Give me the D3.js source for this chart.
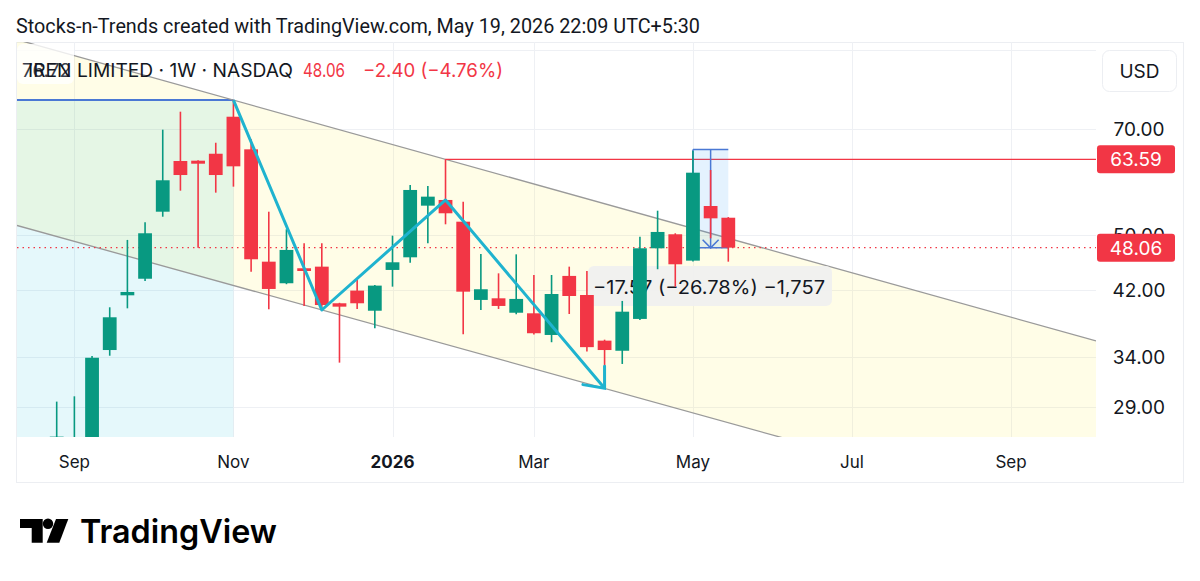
<!DOCTYPE html>
<html><head><meta charset="utf-8">
<script src="https://cdn.jsdelivr.net/npm/d3@7"></script>
<style>html,body{margin:0;padding:0;background:#fff;}svg{display:block;font-family:Inter,Roboto,"Noto Sans",sans-serif;}</style>
</head><body><svg id="c" width="1200" height="581"></svg>
<script>
// ---------- data ----------
const dates = ["2025-08-25","2025-09-01","2025-09-08","2025-09-15","2025-09-22","2025-09-29","2025-10-06","2025-10-13","2025-10-20","2025-10-27",
"2025-11-03","2025-11-10","2025-11-17","2025-11-24","2025-12-01","2025-12-08","2025-12-15","2025-12-22","2025-12-29","2026-01-05",
"2026-01-12","2026-01-19","2026-01-26","2026-02-02","2026-02-09","2026-02-16","2026-02-23","2026-03-02","2026-03-09","2026-03-16",
"2026-03-23","2026-03-30","2026-04-06","2026-04-13","2026-04-20","2026-04-27","2026-05-04","2026-05-11","2026-05-18"];
const openP  = [22.5,24.2,25.6,34.74,41.32,43.55,53.86,63.25,63.31,64.72,72.78,65.63,45.97,42.93,45.02,45.25,40.29,41.94,39.35,44.78,46.61,54.90,55.90,52.18,40.72,40.93,39.10,39.03,36.44,43.94,41.36,35.79,34.66,38.34,47.96,50.14,46.12,54.84,52.84];
const highP  = [29.5,30.0,34.1,39.78,49.25,52.08,69.85,73.95,63.40,67.02,76.72,67.75,53.86,50.94,48.73,48.73,40.35,43.38,42.70,49.92,58.62,58.44,63.59,55.60,47.10,44.30,47.05,44.07,44.07,45.25,44.63,35.90,40.59,49.76,54.03,50.30,65.34,61.47,52.95];
const lowP   = [21.8,23.6,25.2,34.12,39.65,43.24,53.01,57.57,48.05,57.21,58.31,44.53,39.53,42.80,39.95,39.65,33.38,39.57,37.21,42.47,45.82,48.73,51.75,36.52,39.44,39.57,38.91,36.50,35.61,38.94,34.57,30.77,33.24,38.22,44.88,42.47,45.98,49.50,45.97];
const closeP = [26.4,25.9,33.9,38.54,41.76,50.30,59.50,60.50,62.71,60.50,62.19,46.32,42.16,47.71,44.63,40.07,39.86,40.29,42.61,45.88,57.70,56.49,53.59,41.80,42.12,39.95,40.85,36.64,41.49,41.23,35.06,34.74,39.23,47.96,50.51,45.59,60.95,52.74,48.06];

const priceTickValues = [29, 34, 42, 50, 70];
const gridPriceValues = [29, 34, 42, 50, 70, 90];
const monthTickDates = ["2025-09-01","2025-11-03","2026-01-05","2026-03-02","2026-05-04","2026-07-06","2026-09-07"];
const monthTickLabels = ["Sep","Nov","2026","Mar","May","Jul","Sep"];

const lastPrice = 48.06;
const resistancePrice = 63.59, resistanceStart = "2026-01-26";
const upperChannel = [["2025-11-03",76.72],["2026-01-26",63.59]];
const lowerChannel = [["2025-12-08",39.44],["2026-03-30",30.76]];
const zigzagPts = [["2025-11-03",76.72],["2025-12-08",39.44],["2026-01-26",55.90],["2026-03-30",30.77]];
const leftRange = {end:"2025-11-03", price:76.72, label:"76.72"};
const measureTool = {from:"2026-05-04", mid:"2026-05-11", to:"2026-05-18", top:65.6, bottom:48.03};
const measureText = "\u221217.57 (\u221226.78%) \u22121,757";
const titleText = "Stocks-n-Trends created with TradingView.com, May 19, 2026 22:09 UTC+5:30";
const symbolText = "IREN LIMITED \u00b7 1W \u00b7 NASDAQ";
const quoteText = ["48.06", "\u22122.40 (\u22124.76%)"];

// ---------- layout ----------
const P = {l:17, t:42, r:1096, b:437};
const UP = "#089981", DOWN = "#f23645";
const parse = d3.utcParse("%Y-%m-%d");
const bars = dates.map((d,i)=>({d:parse(d), o:openP[i], h:highP[i], l:lowP[i], c:closeP[i]}));

const x = d3.scaleUtc().domain([parse(dates[0]), parse(dates[dates.length-1])]).range([56.7, 728.3]);
const y = d3.scaleLog().domain([26.37, 92.23]).range([P.b, P.t]);
const step = (x(parse(dates[1])) - x(parse(dates[0])));
const bodyW = step*0.78;

const svg = d3.select("#c");
svg.append("rect").attr("width",1200).attr("height",581).attr("fill","#fff");

// title
svg.append("text").attr("x",16).attr("y",33).attr("font-family","Roboto, sans-serif").attr("font-size",20)
  .attr("fill","#131722").attr("textLength",684).attr("lengthAdjust","spacingAndGlyphs").text(titleText);

// frame
svg.append("rect").attr("x",16.5).attr("y",42.5).attr("width",1167).attr("height",440).attr("fill","none").attr("stroke","#eceef2");

const defs = svg.append("defs");
defs.append("clipPath").attr("id","plot").append("rect").attr("x",P.l).attr("y",P.t).attr("width",P.r-P.l).attr("height",P.b-P.t);
const g = svg.append("g").attr("clip-path","url(#plot)");

// grid
g.selectAll("line.hg").data(gridPriceValues).join("line").attr("x1",P.l).attr("x2",P.r)
  .attr("y1",d=>Math.round(y(d))+0.5).attr("y2",d=>Math.round(y(d))+0.5).attr("stroke","#eef0f4");
g.selectAll("line.vg").data(monthTickDates).join("line").attr("y1",P.t).attr("y2",P.b)
  .attr("x1",d=>Math.round(x(parse(d)))+0.5).attr("x2",d=>Math.round(x(parse(d)))+0.5).attr("stroke","#eef0f4");

// channel
function lineFn(pts){
  const a = [x(parse(pts[0][0])), y(pts[0][1])], b = [x(parse(pts[1][0])), y(pts[1][1])];
  const m = (b[1]-a[1])/(b[0]-a[0]);
  return X => a[1] + m*(X-a[0]);
}
const yu = lineFn(upperChannel), yl = lineFn(lowerChannel);
g.append("path").attr("d", d3.line()([[P.l,yu(P.l)],[P.r,yu(P.r)],[P.r,yl(P.r)],[P.l,yl(P.l)]])+"Z")
  .attr("fill","rgba(255,235,59,0.12)");
// left range box
const lx = x(parse(leftRange.end)), ly = y(leftRange.price);
g.append("rect").attr("x",P.l).attr("y",ly).attr("width",lx-P.l).attr("height",P.b-ly).attr("fill","rgba(0,188,212,0.10)");
g.append("line").attr("x1",P.l).attr("x2",lx).attr("y1",ly).attr("y2",ly).attr("stroke","#4a78d4").attr("stroke-width",2);

g.append("line").attr("x1",P.l).attr("x2",P.r).attr("y1",yu(P.l)).attr("y2",yu(P.r)).attr("stroke","#9a9a9a").attr("stroke-width",1.3);
g.append("line").attr("x1",P.l).attr("x2",P.r).attr("y1",yl(P.l)).attr("y2",yl(P.r)).attr("stroke","#9a9a9a").attr("stroke-width",1.3);

// resistance line
g.append("line").attr("x1",x(parse(resistanceStart))).attr("x2",P.r).attr("y1",y(resistancePrice)).attr("y2",y(resistancePrice))
  .attr("stroke",DOWN).attr("stroke-width",1.2);
// last price dotted
g.append("line").attr("x1",P.l).attr("x2",P.r).attr("y1",y(lastPrice)).attr("y2",y(lastPrice))
  .attr("stroke",DOWN).attr("stroke-width",1.2).attr("stroke-dasharray","1.5,4");

// measure tool
const mx0 = x(parse(measureTool.from)), mx1 = x(parse(measureTool.to)), mxm = x(parse(measureTool.mid));
const my0 = y(measureTool.top), my1 = y(measureTool.bottom);
g.append("rect").attr("x",mx0).attr("y",my0).attr("width",mx1-mx0).attr("height",my1-my0).attr("fill","rgba(33,150,243,0.12)");
g.append("line").attr("x1",mx0).attr("x2",mx1).attr("y1",my0).attr("y2",my0).attr("stroke","#4a78d4").attr("stroke-width",1.5);
g.append("line").attr("x1",mx0).attr("x2",mx0).attr("y1",my0).attr("y2",my1).attr("stroke","#4a78d4").attr("stroke-width",1.5);
g.append("line").attr("x1",mx0).attr("x2",mx1).attr("y1",my1).attr("y2",my1).attr("stroke","#4a78d4").attr("stroke-width",1.5);
g.append("line").attr("x1",mxm).attr("x2",mxm).attr("y1",my0).attr("y2",my1).attr("stroke","#4a78d4").attr("stroke-width",1.5);
g.append("path").attr("d",`M${mxm-8},${my1-8}L${mxm},${my1}L${mxm+8},${my1-8}`).attr("fill","none").attr("stroke","#4a78d4").attr("stroke-width",1.5);

// measure label (under candles)
const lbl = g.append("g");
lbl.append("rect").attr("x",588).attr("y",266).attr("width",244).attr("height",40).attr("rx",6).attr("fill","rgba(240,240,240,0.92)");
lbl.append("text").attr("x",593).attr("y",294).attr("font-size",19).attr("fill","#131722")
  .attr("textLength",232).attr("lengthAdjust","spacingAndGlyphs").text(measureText);

// candles
const cg = g.append("g");
cg.selectAll("line.w").data(bars).join("line")
  .attr("x1",d=>x(d.d)).attr("x2",d=>x(d.d)).attr("y1",d=>y(d.h)).attr("y2",d=>y(d.l))
  .attr("stroke",d=>d.c>=d.o?UP:DOWN).attr("stroke-width",1.6);
cg.selectAll("rect.b").data(bars).join("rect")
  .attr("x",d=>x(d.d)-bodyW/2).attr("width",bodyW)
  .attr("y",d=>y(Math.max(d.o,d.c))).attr("height",d=>Math.max(1.5, Math.abs(y(d.o)-y(d.c))))
  .attr("fill",d=>d.c>=d.o?UP:DOWN);

// zigzag
const zp = zigzagPts.map(p=>[x(parse(p[0])), y(p[1])]);
g.append("path").attr("d",d3.line()(zp)).attr("fill","none").attr("stroke","#1fb3cf").attr("stroke-width",3).attr("stroke-linejoin","round");
const e = zp[zp.length-1], s = zp[zp.length-2];
const ang = Math.atan2(s[1]-e[1], s[0]-e[0]);
const hl = 22, spread = 0.7;
g.append("path").attr("d",`M${e[0]+hl*Math.cos(ang-spread)},${e[1]+hl*Math.sin(ang-spread)}L${e[0]},${e[1]}L${e[0]+hl*Math.cos(ang+spread)},${e[1]+hl*Math.sin(ang+spread)}`)
  .attr("fill","none").attr("stroke","#1fb3cf").attr("stroke-width",3).attr("stroke-linecap","round");

// header legend
svg.append("rect").attr("x",17).attr("y",44).attr("width",57).attr("height",40).attr("rx",6).attr("fill","rgba(255,255,255,0.8)");
svg.append("text").attr("x",22).attr("y",77).attr("font-size",19).attr("fill","#3a3e4a").text(leftRange.label);
svg.append("text").attr("x",28).attr("y",77).attr("font-size",19).attr("fill","#131722")
  .attr("textLength",265).attr("lengthAdjust","spacingAndGlyphs").text(symbolText);
svg.append("text").attr("x",303).attr("y",77).attr("font-size",19).attr("fill",DOWN)
  .attr("textLength",42).attr("lengthAdjust","spacingAndGlyphs").text(quoteText[0]);
svg.append("text").attr("x",363).attr("y",77).attr("font-size",19).attr("fill",DOWN)
  .attr("textLength",140).attr("lengthAdjust","spacingAndGlyphs").text(quoteText[1]);

// price axis
svg.append("rect").attr("x",1102.5).attr("y",50.5).attr("width",74).attr("height",41).attr("rx",7).attr("fill","#fff").attr("stroke","#eceef2");
svg.append("text").attr("x",1139.5).attr("y",78).attr("text-anchor","middle").attr("font-size",19).attr("fill","#131722").text("USD");
svg.selectAll("text.pt").data(priceTickValues).join("text")
  .attr("x",1139).attr("y",d=>y(d)+7).attr("text-anchor","middle").attr("font-size",19).attr("fill","#131722")
  .text(d=>d3.format(".2f")(d));
[[resistancePrice],[lastPrice]].forEach(([p])=>{
  const yy = y(p);
  svg.append("rect").attr("x",1097).attr("y",yy-14).attr("width",78).attr("height",28).attr("rx",3).attr("fill",DOWN);
  svg.append("text").attr("x",1136).attr("y",yy+7).attr("text-anchor","middle").attr("font-size",19).attr("fill","#fff").text(d3.format(".2f")(p));
});

// time axis
svg.selectAll("text.tt").data(monthTickDates).join("text")
  .attr("x",d=>x(parse(d))).attr("y",468).attr("text-anchor","middle").attr("font-size",17)
  .attr("font-weight",(d,i)=>monthTickLabels[i]==="2026"?700:400).attr("fill","#131722")
  .text((d,i)=>monthTickLabels[i]);

// logo
const lg = svg.append("g").attr("fill","#000");
lg.append("path").attr("d","M20,519H42.7V542.7H31.7V528H20Z");
lg.append("circle").attr("cx",48).attr("cy",523.8).attr("r",5.2);
lg.append("path").attr("d","M56,519H68.3L59.3,542.7H46.7Z");
lg.append("text").attr("x",80).attr("y",542.7).attr("font-size",33).attr("font-weight",600)
  .attr("textLength",197).attr("lengthAdjust","spacingAndGlyphs").text("TradingView");
</script></body></html>
